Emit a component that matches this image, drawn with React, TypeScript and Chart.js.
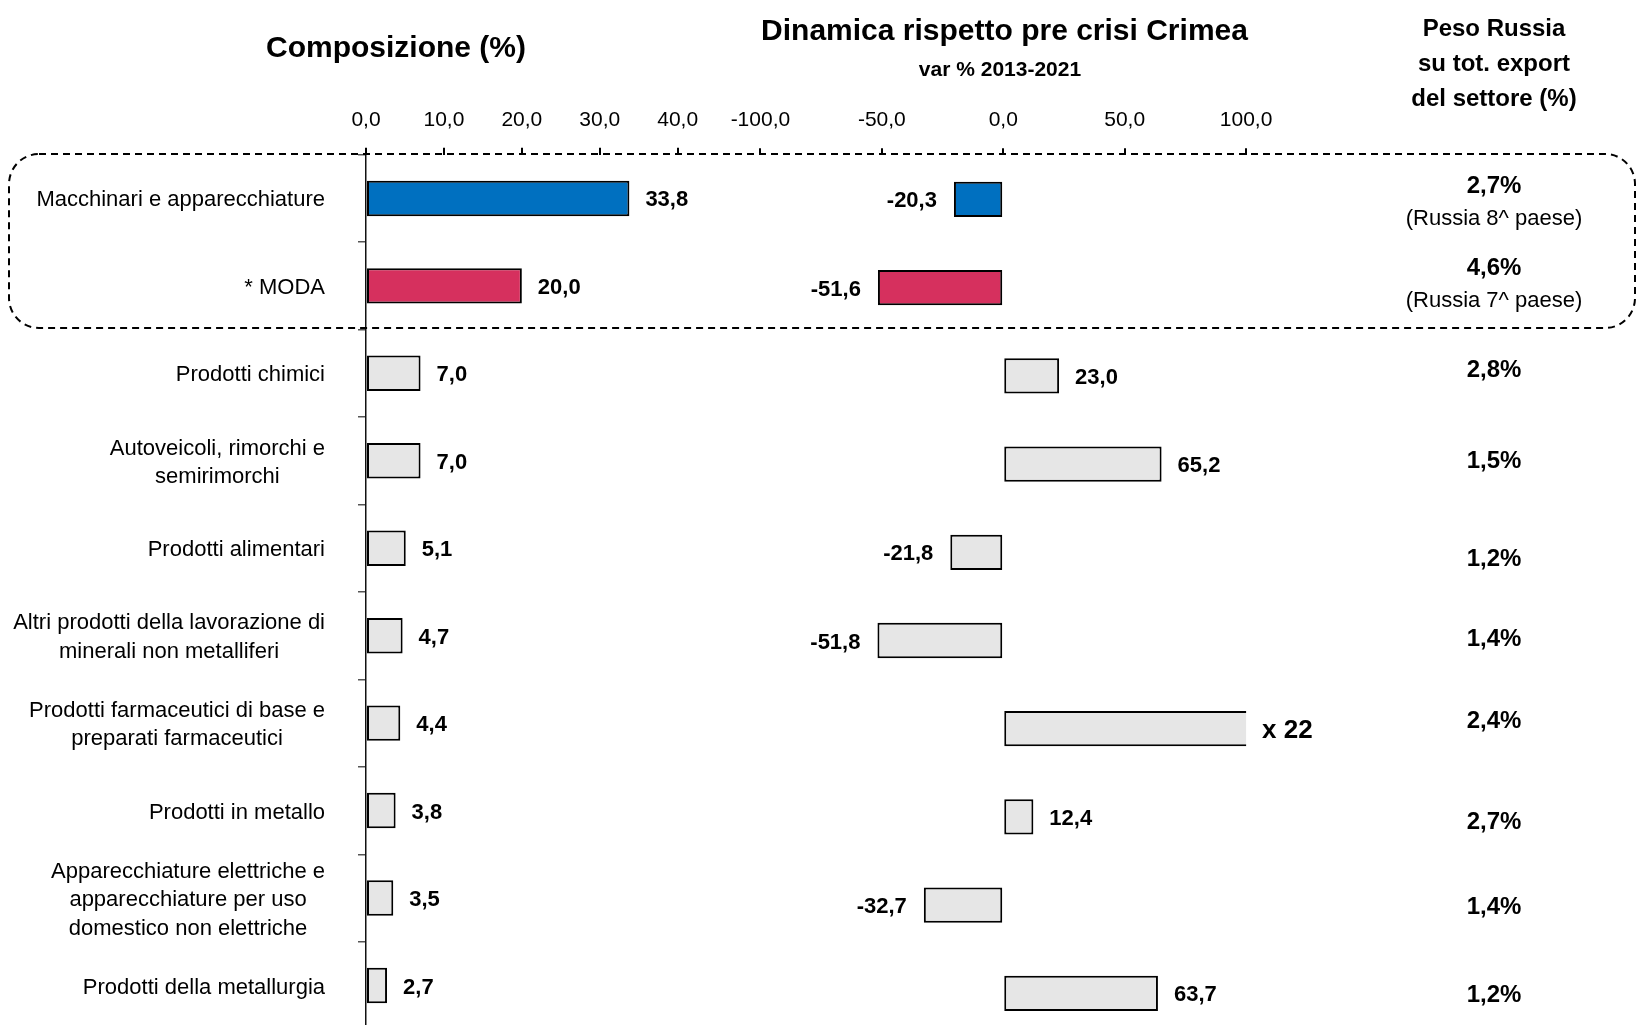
import React, { useEffect, useRef } from "react";
import { Chart, registerables } from "chart.js";

Chart.register(...registerables);

// ---------------- DATA ----------------
const categories: (string | string[])[] = [
  "Macchinari e apparecchiature",
  "* MODA",
  "Prodotti chimici",
  ["Autoveicoli, rimorchi e", "semirimorchi"],
  "Prodotti alimentari",
  ["Altri prodotti della lavorazione di", "minerali non metalliferi"],
  ["Prodotti farmaceutici di base e", "preparati farmaceutici"],
  "Prodotti in metallo",
  ["Apparecchiature elettriche e", "apparecchiature per uso", "domestico non elettriche"],
  "Prodotti della metallurgia",
];

// Composizione (%)
const composition = [33.8, 20.0, 7.0, 7.0, 5.1, 4.7, 4.4, 3.8, 3.5, 2.7];

// Dinamica var % 2013-2021 (farmaceutici: x 22 => +2100%)
const dynamics = [-20.3, -51.6, 23.0, 65.2, -21.8, -51.8, 2100, 12.4, -32.7, 63.7];

// Peso Russia su tot. export del settore (%)
const pesoRussia = ["2,7%", "4,6%", "2,8%", "1,5%", "1,2%", "1,4%", "2,4%", "2,7%", "1,4%", "1,2%"];
const pesoNote = ["(Russia 8^ paese)", "(Russia 7^ paese)", "", "", "", "", "", "", "", ""];

const compAxis = { min: 0, max: 40, step: 10 };
const dynAxis = { min: -100, max: 100, step: 50 };

// ---------------- STYLE / LAYOUT ----------------
const FONT = "'Liberation Sans', Arial, Helvetica, sans-serif";
const barFills = [
  "#0070C0",
  "#D6305E",
  "#E6E6E6",
  "#E6E6E6",
  "#E6E6E6",
  "#E6E6E6",
  "#E6E6E6",
  "#E6E6E6",
  "#E6E6E6",
  "#E6E6E6",
];
const W = 1637;
const CH = 1040;
const LINE_H = 28.5;
const TEXT_DY = 2; // small vertical nudge for canvas text
// vertical positions (px) of the right column texts
const pesoY = [185, 267, 369, 460, 558, 638, 720, 821, 906, 994];
const noteY = [218, 300];

const fmt = (v: number) => v.toFixed(1).replace(".", ",");

const leftLabelsPlugin = {
  id: "leftLabels",
  afterDraw(chart: any) {
    const ctx = chart.ctx;
    const ys = chart.scales.y;
    const meta = chart.getDatasetMeta(0);
    ctx.save();
    ctx.fillStyle = "#000";
    ctx.textBaseline = "middle";
    ctx.font = `22px ${FONT}`;
    ctx.textAlign = "center";
    const labelRight = chart.chartArea.left - 41;
    categories.forEach((lab, i) => {
      const lines = Array.isArray(lab) ? lab : [lab];
      const widest = Math.max(...lines.map((l) => ctx.measureText(l).width));
      const cx = labelRight - widest / 2;
      const cy = ys.getPixelForValue(i) + TEXT_DY;
      lines.forEach((l, k) => {
        ctx.fillText(l, cx, cy + (k - (lines.length - 1) / 2) * LINE_H);
      });
    });
    ctx.font = `bold 22px ${FONT}`;
    ctx.textAlign = "left";
    composition.forEach((v, i) => {
      const el = meta.data[i];
      ctx.fillText(fmt(v), el.x + 16, el.y + TEXT_DY);
    });
    ctx.restore();
  },
};

const rightLabelsPlugin = {
  id: "rightLabels",
  afterDraw(chart: any) {
    const ctx = chart.ctx;
    const xs = chart.scales.x;
    const meta = chart.getDatasetMeta(0);
    ctx.save();
    ctx.fillStyle = "#000";
    ctx.textBaseline = "middle";
    dynamics.forEach((v, i) => {
      const el = meta.data[i];
      const y = el.y + TEXT_DY;
      if (v > xs.max) {
        ctx.font = `bold 26px ${FONT}`;
        ctx.textAlign = "left";
        ctx.fillText("x " + Math.round(v / 100 + 1), xs.getPixelForValue(xs.max) + 16, y);
      } else if (v >= 0) {
        ctx.font = `bold 22px ${FONT}`;
        ctx.textAlign = "left";
        ctx.fillText(fmt(v), el.x + 16, y);
      } else {
        ctx.font = `bold 22px ${FONT}`;
        ctx.textAlign = "right";
        ctx.fillText(fmt(v), el.x - 17, y);
      }
    });
    ctx.restore();
  },
};

function makeXScale(axis: { min: number; max: number; step: number }, height: number, padding: number) {
  return {
    type: "linear",
    position: "top",
    min: axis.min,
    max: axis.max,
    afterFit: (s: any) => {
      s.height = height;
    },
    border: { display: false },
    grid: { drawOnChartArea: false, drawTicks: true, tickLength: 7, color: "#000", lineWidth: 2 },
    ticks: {
      stepSize: axis.step,
      padding,
      maxRotation: 0,
      autoSkip: false,
      color: "#000",
      font: { size: 21, family: FONT },
      callback: (v: any) => fmt(Number(v)),
    },
  };
}

export default function App() {
  const leftRef = useRef<HTMLCanvasElement | null>(null);
  const rightRef = useRef<HTMLCanvasElement | null>(null);

  useEffect(() => {
    Chart.defaults.font.family = FONT;
    const left = new Chart(leftRef.current as HTMLCanvasElement, {
      type: "bar",
      data: {
        labels: categories as any,
        datasets: [
          {
            data: composition,
            backgroundColor: barFills,
            borderColor: "#000",
            borderWidth: 2,
            borderSkipped: false,
            barPercentage: 0.405,
            categoryPercentage: 1,
          },
        ],
      },
      options: {
        indexAxis: "y",
        responsive: false,
        animation: false,
        devicePixelRatio: 1,
        layout: { padding: { left: 0, top: 0, right: W - 677.7, bottom: CH - 1029.2 } },
        plugins: { legend: { display: false }, tooltip: { enabled: false } },
        scales: {
          x: makeXScale(compAxis, 154.7, 14.8) as any,
          y: {
            type: "category",
            offset: true,
            afterFit: (s: any) => {
              s.width = 366;
            },
            border: { display: true, color: "#111", width: 1.5 },
            grid: { offset: true, drawOnChartArea: false, drawTicks: true, tickLength: 8, color: "#555", lineWidth: 1.5 },
            ticks: { display: false, autoSkip: false },
          },
        },
      },
      plugins: [leftLabelsPlugin],
    });

    const right = new Chart(rightRef.current as HTMLCanvasElement, {
      type: "bar",
      data: {
        labels: categories as any,
        datasets: [
          {
            data: dynamics,
            backgroundColor: barFills,
            borderColor: "#000",
            borderWidth: 2,
            borderSkipped: false,
            barPercentage: 0.4,
            categoryPercentage: 1,
            clip: 0,
          } as any,
        ],
      },
      options: {
        indexAxis: "y",
        responsive: false,
        animation: false,
        devicePixelRatio: 1,
        layout: { padding: { left: 760.4, top: 0, right: W - 1246.1, bottom: CH - 1037.5 } },
        plugins: { legend: { display: false }, tooltip: { enabled: false } },
        scales: {
          x: makeXScale(dynAxis, 155.3, 15.4) as any,
          y: {
            type: "category",
            display: false,
            offset: true,
            grid: { offset: true },
            ticks: { autoSkip: false },
          },
        },
      },
      plugins: [rightLabelsPlugin],
    });

    return () => {
      left.destroy();
      right.destroy();
    };
  }, []);

  const centered = (x: number, y: number, extra: React.CSSProperties = {}): React.CSSProperties => ({
    position: "absolute",
    left: x,
    top: y,
    transform: "translate(-50%, -50%)",
    whiteSpace: "nowrap",
    lineHeight: 1,
    textAlign: "center",
    ...extra,
  });

  return (
    <div
      style={{
        position: "fixed",
        left: 0,
        top: 0,
        width: W,
        height: 1025,
        overflow: "hidden",
        background: "#fff",
        fontFamily: FONT,
        color: "#000",
      }}
    >
      <canvas ref={leftRef} width={W} height={CH} style={{ position: "absolute", left: 0, top: 0 }} />
      <canvas ref={rightRef} width={W} height={CH} style={{ position: "absolute", left: 0, top: 0 }} />
      <svg
        width={W}
        height={1025}
        style={{ position: "absolute", left: 0, top: 0, pointerEvents: "none" }}
      >
        <rect
          x={9}
          y={154}
          width={1626}
          height={174}
          rx={30}
          ry={30}
          fill="none"
          stroke="#000"
          strokeWidth={2}
          strokeDasharray="7 5"
        />
      </svg>

      <div style={centered(396, 47, { fontSize: 30, fontWeight: "bold" })}>Composizione (%)</div>
      <div style={centered(1004.5, 29.5, { fontSize: 30, fontWeight: "bold" })}>
        Dinamica rispetto pre crisi Crimea
      </div>
      <div style={centered(1000, 68, { fontSize: 21, fontWeight: "bold" })}>var % 2013-2021</div>
      <div
        style={{
          position: "absolute",
          left: 1494,
          top: 10,
          transform: "translateX(-50%)",
          whiteSpace: "nowrap",
          textAlign: "center",
          fontSize: 24,
          fontWeight: "bold",
          lineHeight: "35px",
        }}
      >
        Peso Russia
        <br />
        su tot. export
        <br />
        del settore (%)
      </div>

      {pesoRussia.map((p, i) => (
        <div key={"p" + i} style={centered(1494, pesoY[i], { fontSize: 24, fontWeight: "bold" })}>
          {p}
        </div>
      ))}
      {pesoNote.map((n, i) =>
        n ? (
          <div key={"n" + i} style={centered(1494, noteY[i], { fontSize: 22 })}>
            {n}
          </div>
        ) : null
      )}
    </div>
  );
}
